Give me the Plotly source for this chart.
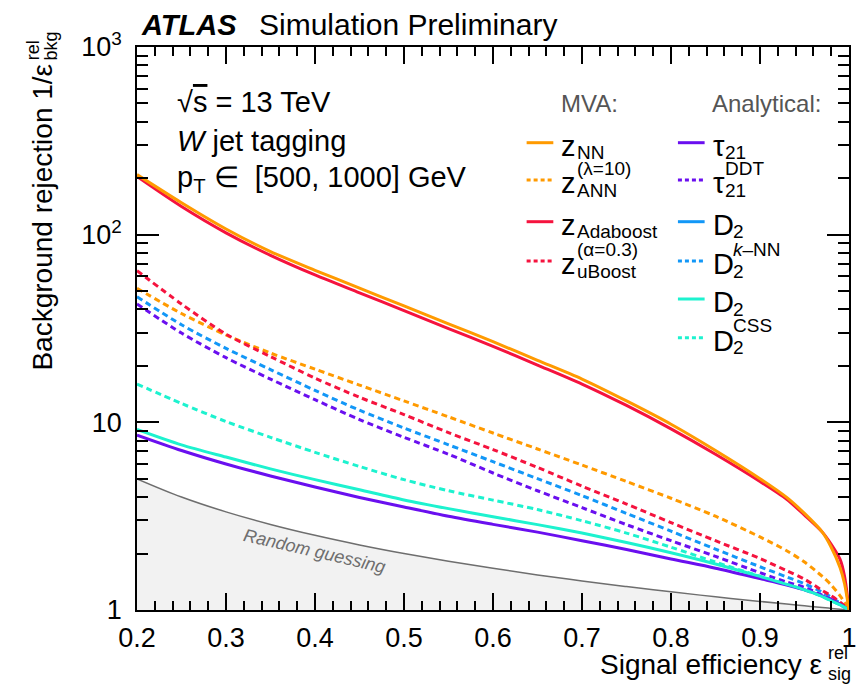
import plotly.graph_objects as go

# ---------------- data ----------------
eff = [0.2, 0.25, 0.3, 0.35, 0.4, 0.45, 0.5, 0.55, 0.6, 0.65, 0.7, 0.75,
       0.8, 0.85, 0.9, 0.93, 0.95, 0.97, 0.98, 0.99, 0.995, 1.0]

z_nn = [208.9, 147.9, 107.2, 81.3, 64.6, 51.9, 41.7, 33.5, 26.9, 21.4, 17.0, 13.0,
        9.77, 7.08, 5.01, 3.98, 3.27, 2.60, 2.16, 1.68, 1.38, 1.0]
z_ann = [51.8, 38.0, 29.2, 23.4, 19.2, 15.8, 13.0, 10.7, 8.77, 7.21, 5.92, 4.84,
         3.94, 3.16, 2.45, 2.07, 1.80, 1.51, 1.36, 1.19, 1.10, 1.0]
z_adaboost = [204.2, 141.3, 102.3, 77.6, 61.0, 49.0, 39.4, 31.6, 25.4, 20.2, 16.0, 12.3,
              9.23, 6.76, 4.84, 3.89, 3.20, 2.60, 2.24, 1.86, 1.51, 1.0]
z_uboost = [64.3, 42.7, 29.5, 22.4, 17.2, 13.6, 11.0, 8.81, 7.16, 5.75, 4.57, 3.67,
            2.92, 2.34, 1.88, 1.62, 1.46, 1.27, 1.19, 1.10, 1.05, 1.0]
tau21 = [8.55, 7.08, 6.00, 5.18, 4.52, 3.98, 3.54, 3.16, 2.86, 2.60, 2.34, 2.10,
         1.87, 1.67, 1.47, 1.36, 1.28, 1.19, 1.14, 1.07, 1.037, 1.0]
d2 = [9.18, 7.59, 6.53, 5.65, 4.95, 4.37, 3.86, 3.47, 3.14, 2.85, 2.57, 2.29,
      2.02, 1.76, 1.51, 1.37, 1.28, 1.18, 1.12, 1.064, 1.033, 1.0]
tau21_ddt = [42.7, 29.9, 22.1, 17.0, 13.2, 10.35, 8.32, 6.76, 5.37, 4.32, 3.51, 2.85,
             2.34, 1.93, 1.58, 1.41, 1.32, 1.20, 1.14, 1.074, 1.037, 1.0]
d2_knn = [46.7, 33.1, 24.8, 19.1, 14.8, 11.6, 9.33, 7.59, 6.17, 5.01, 4.07, 3.27,
          2.63, 2.11, 1.70, 1.50, 1.38, 1.245, 1.17, 1.086, 1.045, 1.0]
d2_css = [16.0, 12.6, 10.1, 8.32, 6.92, 5.82, 4.95, 4.32, 3.85, 3.43, 2.99, 2.57,
          2.16, 1.80, 1.51, 1.37, 1.28, 1.18, 1.12, 1.064, 1.033, 1.0]
random_guess = [5.0, 4.0, 3.333, 2.857, 2.5, 2.222, 2.0, 1.818, 1.667, 1.538, 1.429, 1.333,
                1.25, 1.176, 1.111, 1.075, 1.053, 1.031, 1.020, 1.010, 1.005, 1.0]
baseline = [1.0] * len(eff)

x_ticks = [0.2, 0.3, 0.4, 0.5, 0.6, 0.7, 0.8, 0.9, 1.0]
x_tick_text = ["0.2", "0.3", "0.4", "0.5", "0.6", "0.7", "0.8", "0.9", "1"]
y_ticks = [1, 10, 100, 1000]
y_tick_text = ["1", "10", "10<sup>2</sup>", "10<sup>3</sup>"]
y_minor = [m * d for d in (1, 10, 100) for m in range(2, 10)]

ORANGE = "#FF9A00"
RED = "#F5133E"
PURPLE = "#6A0FEF"
BLUE = "#1297F7"
CYAN = "#1DF2CF"
DASH = "6px,4px"

series = [
    # name, values, color, dash
    ("tau21_ddt", tau21_ddt, PURPLE, DASH),
    ("d2_knn", d2_knn, BLUE, DASH),
    ("d2_css", d2_css, CYAN, DASH),
    ("z_ann", z_ann, ORANGE, DASH),
    ("z_uboost", z_uboost, RED, DASH),
    ("tau21", tau21, PURPLE, "solid"),
    ("d2", d2, CYAN, "solid"),
    ("z_adaboost", z_adaboost, RED, "solid"),
    ("z_nn", z_nn, ORANGE, "solid"),
]

FONT = "Liberation Sans, Arial, Helvetica, sans-serif"

# plot-area geometry in pixels
W, H = 864, 684
L, R, T, B = 137, 857, 47, 610


def pxx(x):
    return (x - L) / (R - L)


def pxy(y):
    return (B - y) / (B - T)


fig = go.Figure()

# random guessing band
fig.add_trace(go.Scatter(x=eff, y=baseline, mode="lines", line=dict(width=0, color="#f2f2f2"),
                         hoverinfo="skip", showlegend=False))
fig.add_trace(go.Scatter(x=eff, y=random_guess, mode="lines", fill="tonexty",
                         fillcolor="#f2f2f2", line=dict(color="#6e6e6e", width=1.5, shape="spline"),
                         showlegend=False))

for name, vals, col, dash in series:
    fig.add_trace(go.Scatter(x=eff, y=vals, mode="lines", name=name,
                             line=dict(color=col, width=3, dash=dash, shape="spline", smoothing=0.8),
                             showlegend=False))

annotations = []
shapes = []


def text(x, y, s, size, xanchor="left", yanchor="middle", color="black", angle=0):
    annotations.append(dict(x=pxx(x), y=pxy(y), xref="paper", yref="paper", text=s,
                            showarrow=False, xanchor=xanchor, yanchor=yanchor,
                            textangle=angle,
                            font=dict(family=FONT, size=size, color=color)))


# title
text(139, 25, "<b><i>ATLAS</i></b>", 29)
text(258, 25, "Simulation Preliminary", 30)

# info text
text(175, 102, "√<span style='text-decoration:overline'>s</span> = 13 TeV", 29)
text(175, 141, "<i>W</i> jet tagging", 29)
text(175, 179, "p<sub>T</sub> ∈  [500, 1000] GeV", 29)

# legend headers
text(564, 104, "MVA:", 24, color="#555555")
text(716, 104, "Analytical:", 24, color="#555555")

# legend entries: sample line start x, row y, colour, dash, main glyph, sub, sup
legend_entries = [
    (531, 142.7, ORANGE, "solid", "z", "NN", None),
    (531, 180.0, ORANGE, "dash", "z", "ANN", "(λ=10)"),
    (531, 221.7, RED, "solid", "z", "Adaboost", None),
    (531, 261.0, RED, "dash", "z", "uBoost", "(α=0.3)"),
    (684, 142.7, PURPLE, "solid", "τ", "21", None),
    (684, 180.0, PURPLE, "dash", "τ", "21", "DDT"),
    (684, 221.7, BLUE, "solid", "D", "2", None),
    (684, 261.0, BLUE, "dash", "D", "2", "<i>k</i>–NN"),
    (684, 299.0, CYAN, "solid", "D", "2", None),
    (684, 337.7, CYAN, "dash", "D", "2", "CSS"),
]
glyph_w = {"z": 16, "τ": 13, "D": 21}
for lx, ly, col, dash, main, sub, sup in legend_entries:
    shapes.append(dict(type="line", xref="paper", yref="paper",
                       x0=pxx(lx), x1=pxx(lx + 27), y0=pxy(ly), y1=pxy(ly),
                       line=dict(color=col, width=3, dash=("4px,3px" if dash == "dash" else "solid"))))
    tx = lx + 33
    text(tx, ly + 3, main, 29)
    sx = tx + glyph_w[main]
    text(sx, ly + 10, sub, 19)
    if sup:
        text(sx, ly - 12, sup, 19)

# random guessing label
text(316, 551, "<i>Random guessing</i>", 18, xanchor="center", color="#6e6e6e", angle=13)

# y-axis title
text(41, 373, "Background rejection 1/ε", 28, xanchor="center", yanchor="bottom", angle=-90)
text(32, 62, "rel", 18, xanchor="center", yanchor="bottom", angle=-90)
text(50, 62, "bkg", 18, xanchor="center", yanchor="bottom", angle=-90)

# x-axis title
text(832, 664, "Signal efficiency ε", 28, xanchor="right")
text(834, 653, "rel", 18)
text(834, 674, "sig", 18)

fig.update_layout(
    width=W, height=H,
    margin=dict(l=L, r=W - R, t=T, b=H - B),
    paper_bgcolor="white", plot_bgcolor="white",
    font=dict(family=FONT, size=27, color="black"),
    annotations=annotations, shapes=shapes,
    showlegend=False,
)

fig.update_xaxes(range=[0.2, 1.0], tickvals=x_ticks, ticktext=x_tick_text,
                 ticks="inside", ticklen=17, tickwidth=1.5, tickcolor="black",
                 showline=True, linecolor="black", linewidth=1.5, mirror="allticks",
                 showgrid=False, zeroline=False, ticklabelstandoff=3,
                 tickfont=dict(family=FONT, size=27),
                 minor=dict(dtick=0.02, tick0=0.2, ticks="inside", ticklen=9, tickwidth=1.5,
                            tickcolor="black", showgrid=False))
fig.update_yaxes(type="log", range=[0, 3], tickvals=y_ticks, ticktext=y_tick_text,
                 ticks="inside", ticklen=22, tickwidth=1.5, tickcolor="black",
                 showline=True, linecolor="black", linewidth=1.5, mirror="allticks",
                 showgrid=False, zeroline=False, ticklabelstandoff=8,
                 tickfont=dict(family=FONT, size=27),
                 minor=dict(tickvals=y_minor, ticks="inside", ticklen=11, tickwidth=1.5,
                            tickcolor="black", showgrid=False))

fig.write_html("out.html")
